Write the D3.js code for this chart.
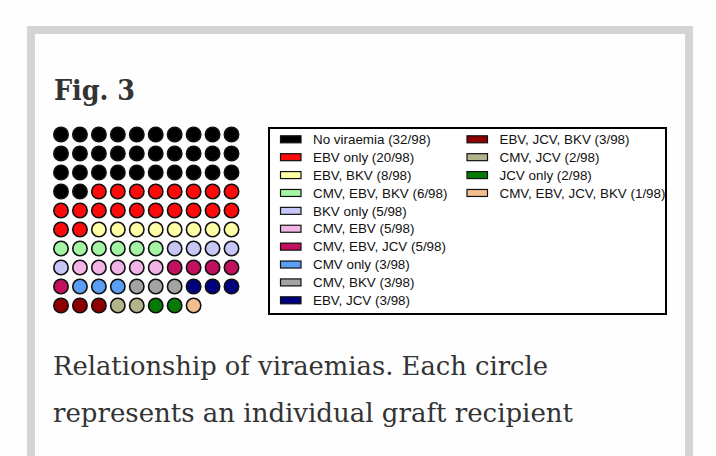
<!DOCTYPE html>
<html>
<head>
<meta charset="utf-8">
<script src="https://cdn.jsdelivr.net/npm/d3@7"></script>
<style>
  html, body { margin: 0; padding: 0; background: #fdfdfd; }
  svg { display: block; }
</style>
</head>
<body>
<svg id="chart" width="716" height="456"></svg>
<script>
// ---- data ----
const categories = [
  "No viraemia", "EBV only", "EBV, BKV", "CMV, EBV, BKV", "BKV only",
  "CMV, EBV", "CMV, EBV, JCV", "CMV only", "CMV, BKV", "EBV, JCV",
  "EBV, JCV, BKV", "CMV, JCV", "JCV only", "CMV, EBV, JCV, BKV"
];
const counts = [32, 20, 8, 6, 5, 5, 5, 3, 3, 3, 3, 2, 2, 1];
const colors = [
  "#000000", "#ff0a0a", "#ffffa6", "#a3f5a3", "#c6c6f7",
  "#f2b3e6", "#c3105e", "#5a9ef5", "#a3a3a3", "#00007f",
  "#8e0000", "#b4b48c", "#067a06", "#f3bd8f"
];
const total = 98;
const nCols = 10;
const titleText = "Fig. 3";
const captionLines = [
  "Relationship of viraemias. Each circle",
  "represents an individual graft recipient"
];

// ---- build ----
const svg = d3.select("#chart");

// page frame
svg.append("rect").attr("x", 31).attr("y", 30).attr("width", 658).attr("height", 440)
  .attr("fill", "#fefefe").attr("stroke", "#d4d4d4").attr("stroke-width", 8);

svg.append("text").attr("x", 54).attr("y", 100)
  .attr("font-family", "'DejaVu Serif Condensed', 'DejaVu Serif', serif")
  .attr("font-weight", "bold").attr("font-size", 28).attr("fill", "#333")
  .attr("textLength", 81).attr("lengthAdjust", "spacingAndGlyphs")
  .text(titleText);

const capY = d3.scaleLinear().domain([0, 1]).range([375, 422]);
const capW = [495, 520];
svg.selectAll("text.cap").data(captionLines).join("text").attr("class", "cap")
  .attr("x", 53).attr("y", (d, i) => capY(i))
  .attr("font-family", "'DejaVu Serif Condensed', 'DejaVu Serif', serif")
  .attr("font-size", 26).attr("fill", "#333")
  .attr("textLength", (d, i) => capW[i]).attr("lengthAdjust", "spacingAndGlyphs")
  .text(d => d);

// waffle data
const cells = [];
categories.forEach((c, k) => {
  for (let j = 0; j < counts[k]; j++) cells.push({ cat: c, color: colors[k] });
});
const nRows = Math.ceil(total / nCols);
const gx = d3.scaleLinear().domain([0, nCols - 1]).range([61, 231.5]);
const gy = d3.scaleLinear().domain([0, nRows - 1]).range([134.5, 305.5]);

svg.append("g").selectAll("circle").data(cells).join("circle")
  .attr("cx", (d, i) => gx(i % nCols))
  .attr("cy", (d, i) => gy(Math.floor(i / nCols)))
  .attr("r", 7.2)
  .attr("fill", d => d.color)
  .attr("stroke", "#111")
  .attr("stroke-width", 1.6);

// legend
svg.append("rect").attr("x", 269).attr("y", 128).attr("width", 397).attr("height", 186)
  .attr("fill", "#fff").attr("stroke", "#000").attr("stroke-width", 2);

const ly = d3.scaleLinear().domain([0, 9]).range([139.3, 300.3]);
const perCol = 10;
const colX = [280, 466.5];
const legend = svg.append("g").selectAll("g").data(categories).join("g")
  .attr("transform", (d, i) => `translate(${colX[Math.floor(i / perCol)]},${ly(i % perCol)})`);
legend.append("rect").attr("x", 0.5).attr("y", -3.5).attr("width", 20.5).attr("height", 7)
  .attr("fill", (d, i) => colors[i]).attr("stroke", "#111").attr("stroke-width", 1.2);
legend.append("text").attr("x", 33).attr("y", 4.7)
  .attr("font-family", "'Liberation Sans', Arial, sans-serif").attr("font-size", 13.4)
  .attr("fill", "#111")
  .text((d, i) => `${d} (${counts[i]}/${total})`);
</script>
</body>
</html>
